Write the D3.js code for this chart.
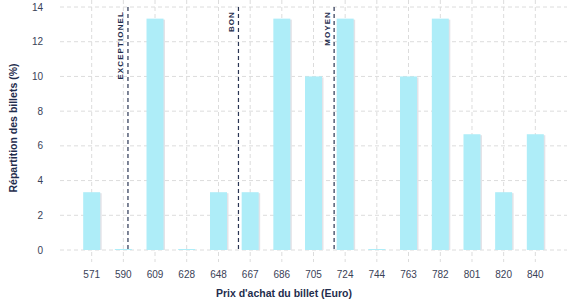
<!DOCTYPE html>
<html lang="fr">
<head>
<meta charset="UTF-8">
<title>Répartition des billets</title>
<script src="https://d3js.org/d3.v7.min.js"></script>
<style>
    body { margin: 0; background: #fff; font-family: "Liberation Sans", Arial, sans-serif; }
    svg { display: block; }
    .grid line { stroke: #dcdcdc; stroke-dasharray: 4,3; }
    .tick-label { font-size: 10px; fill: #3a4257; }
    .axis-title { font-size: 10.5px; font-weight: bold; fill: #1f2d4d; }
    .marker-label { font-size: 8px; font-weight: bold; fill: #1f2d4d; letter-spacing: 1.1px; }
</style>
</head>
<body>
<svg id="chart" width="577" height="300"></svg>
<script>
    // bin centres (euro) and their tick labels
    const prices = [571, 590.2, 609.4, 628.6, 647.9, 667.1, 686.3, 705.5, 724.7, 743.9, 763.1, 782.4, 801.6, 820.8, 840];
    const priceLabels = ["571", "590", "609", "628", "648", "667", "686", "705", "724", "744", "763", "782", "801", "820", "840"];
    const shares = [3.33, 0, 13.33, 0, 3.33, 3.33, 13.33, 10, 13.33, 0, 10, 13.33, 6.67, 3.33, 6.67];
    const yTicks = [0, 2, 4, 6, 8, 10, 12, 14];
    const markerNames = ["EXCEPTIONEL", "BON", "MOYEN"];
    const markerPrices = [593, 660, 718];

    const svg = d3.select("#chart");
    const plot = { left: 60, right: 567, top: 7, bottom: 250 };
    const step = (840 - 571) / 14;

    const x = d3.scaleLinear().domain([571 - step, 840 + step]).range([plot.left, plot.right]);
    const y = d3.scaleLinear().domain([0, 14]).range([plot.bottom, plot.top]);
    const barW = 17;
    const base = plot.bottom;

    // horizontal grid
    svg.append("g").attr("class", "grid")
        .selectAll("line").data(yTicks).join("line")
        .attr("x1", plot.left).attr("x2", plot.right)
        .attr("y1", d => y(d)).attr("y2", d => y(d));

    // vertical grid
    svg.append("g").attr("class", "grid")
        .selectAll("line").data(prices).join("line")
        .attr("x1", d => x(d)).attr("x2", d => x(d))
        .attr("y1", 0).attr("y2", 262);

    // y tick labels
    svg.append("g").selectAll("text").data(yTicks).join("text")
        .attr("class", "tick-label")
        .attr("x", 43).attr("y", d => y(d)).attr("dy", "0.35em")
        .attr("text-anchor", "end")
        .text(d => d);

    // x tick labels
    svg.append("g").selectAll("text").data(priceLabels).join("text")
        .attr("class", "tick-label")
        .attr("x", (d, i) => x(prices[i])).attr("y", 278)
        .attr("text-anchor", "middle")
        .text(d => d);

    // bars with a faint shadow
    const bars = svg.append("g");
    bars.selectAll("rect.shadow").data(shares).join("rect")
        .attr("class", "shadow")
        .attr("x", (d, i) => x(prices[i]) - barW / 2 + 1.5)
        .attr("y", d => Math.min(y(d), base - 1) + 1)
        .attr("width", barW)
        .attr("height", d => Math.max(base - y(d), 1) - 1)
        .attr("fill", "#e3e3e8");
    bars.selectAll("rect.bar").data(shares).join("rect")
        .attr("class", "bar")
        .attr("x", (d, i) => x(prices[i]) - barW / 2)
        .attr("y", d => Math.min(y(d), base - 1))
        .attr("width", barW)
        .attr("height", d => Math.max(base - y(d), 1))
        .attr("fill", "#aeedf8");

    // category markers
    const markers = svg.append("g");
    markers.selectAll("line").data(markerPrices).join("line")
        .attr("x1", d => x(d)).attr("x2", d => x(d))
        .attr("y1", 7).attr("y2", base)
        .attr("stroke", "#2a3553").attr("stroke-width", 1.2)
        .attr("stroke-dasharray", "4,3");
    markers.selectAll("text").data(markerNames).join("text")
        .attr("class", "marker-label")
        .attr("transform", (d, i) => `translate(${x(markerPrices[i]) - 4.5},11) rotate(-90)`)
        .attr("text-anchor", "end")
        .text(d => d);

    // axis titles
    svg.append("text").attr("class", "axis-title")
        .attr("x", 284).attr("y", 297)
        .attr("text-anchor", "middle")
        .text("Prix d'achat du billet (Euro)");
    svg.append("text").attr("class", "axis-title")
        .attr("transform", "translate(17,128) rotate(-90)")
        .attr("text-anchor", "middle")
        .text("Répartition des billets (%)");
</script>
</body>
</html>
